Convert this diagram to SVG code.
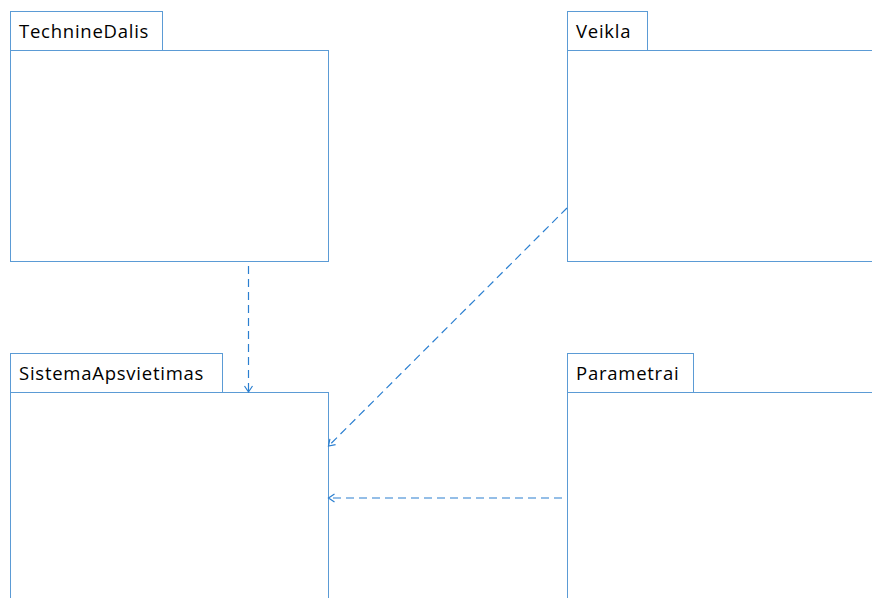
<svg xmlns="http://www.w3.org/2000/svg" width="872" height="598" viewBox="0 0 872 598">
  <style>
    .pkg { fill: #ffffff; stroke: #5b9bd5; stroke-width: 1; }
    .lbl { font-family: "Open Sans", "Noto Sans", sans-serif; font-size: 18.5px; letter-spacing: 0.75px; fill: #000000; }
    .dep { fill: none; stroke: #2b7fd0; stroke-width: 1.2; stroke-dasharray: 8 5; }
  </style>
  <defs>
    <marker id="open" markerWidth="12" markerHeight="12" refX="9" refY="5" orient="auto" markerUnits="userSpaceOnUse">
      <path d="M3,1 L9,5 L3,9" fill="none" stroke="#2b7fd0" stroke-width="1.2"/>
    </marker>
  </defs>
  <rect width="872" height="598" fill="#ffffff"/>

  <g id="TechnineDalis">
    <rect class="pkg" x="10.5" y="11.5" width="152" height="39"/>
    <rect class="pkg" x="10.5" y="50.5" width="318" height="211"/>
    <text class="lbl" x="19" y="37.5">TechnineDalis</text>
  </g>

  <g id="Veikla">
    <rect class="pkg" x="567.5" y="11.5" width="80" height="39"/>
    <rect class="pkg" x="567.5" y="50.5" width="320" height="211"/>
    <text class="lbl" x="576" y="37.5">Veikla</text>
  </g>

  <g id="SistemaApsvietimas">
    <rect class="pkg" x="10.5" y="353.5" width="212" height="39"/>
    <rect class="pkg" x="10.5" y="392.5" width="318" height="220"/>
    <text class="lbl" x="19" y="379.5">SistemaApsvietimas</text>
  </g>

  <g id="Parametrai">
    <rect class="pkg" x="567.5" y="353.5" width="126" height="39"/>
    <rect class="pkg" x="567.5" y="392.5" width="320" height="220"/>
    <text class="lbl" x="576" y="379.5">Parametrai</text>
  </g>

  <g id="connectors">
    <line class="dep" x1="248.5" y1="266" x2="248.5" y2="392" marker-end="url(#open)"/>
    <line class="dep" x1="567" y1="208" x2="328.5" y2="446" marker-end="url(#open)"/>
    <line class="dep" x1="562" y1="498" x2="328.5" y2="498" marker-end="url(#open)"/>
  </g>
</svg>
